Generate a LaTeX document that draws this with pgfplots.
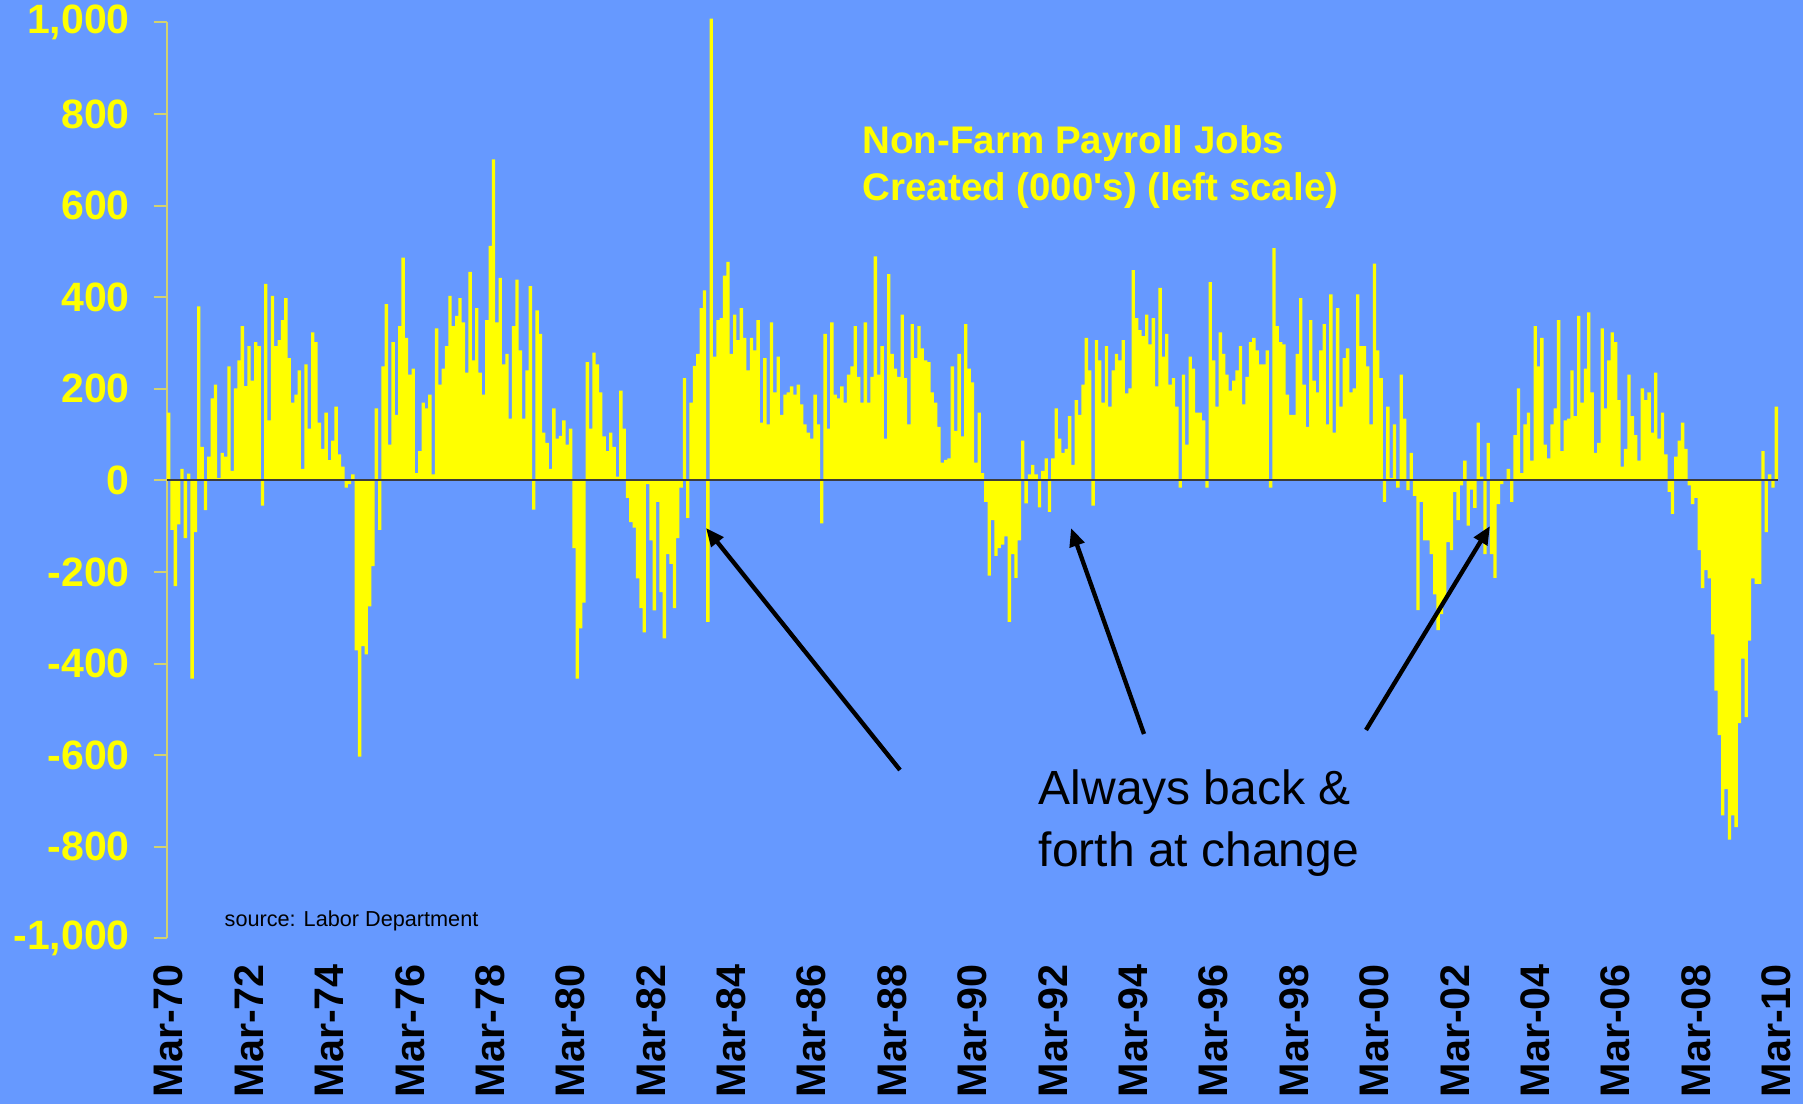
\documentclass[border=0pt]{standalone}
\usepackage{fontspec}
\setmainfont{Liberation Sans}
\usepackage{pgfplots}
\usepackage{pgfplotstable}
\pgfplotsset{compat=1.18}
\usetikzlibrary{arrows.meta}
\definecolor{bgblue}{RGB}{102,153,255}
\definecolor{baryellow}{RGB}{255,255,0}
\definecolor{axisyellow}{RGB}{210,210,110}
\definecolor{zeroline}{RGB}{60,60,60}

\pgfplotstableread[row sep=\\]{
v\\
148\\ -108\\ -231\\ -96\\ 25\\ -126\\ 15\\ -433\\ -113\\ 380\\ 73\\ -65\\ 52\\ 179\\ 209\\ 5\\ 60\\ 52\\ 249\\ 21\\ 201\\ 262\\ 337\\ 206\\ 293\\ 218\\ 302\\ 293\\ -55\\ 429\\ 131\\ 403\\ 293\\ 306\\ 350\\ 398\\ 267\\ 170\\ 187\\ 240\\ 25\\ 253\\ 113\\ 323\\ 302\\ 126\\ 69\\
148\\ 44\\ 87\\ 161\\ 57\\ 30\\ -16\\ -8\\ 13\\ -371\\ -603\\ -362\\ -380\\ -275\\ -187\\ 157\\ -108\\ 249\\ 385\\ 78\\ 302\\ 143\\ 337\\ 486\\ 311\\ 231\\ 244\\ 16\\ 64\\ 170\\ 157\\ 187\\ 13\\ 332\\ 209\\ 244\\ 293\\ 403\\ 337\\ 359\\ 398\\ 345\\ 235\\ 455\\ 262\\ 376\\ 235\\ 187\\
350\\ 512\\ 701\\ 345\\ 442\\ 253\\ 276\\ 135\\ 337\\ 438\\ 284\\ 135\\ 240\\ 424\\ -64\\ 371\\ 320\\ 104\\ 82\\ 25\\ 157\\ 91\\ 97\\ 131\\ 78\\ 113\\ -148\\ -433\\ -323\\ -267\\ 258\\ 113\\ 279\\ 253\\ 192\\ 96\\ 64\\ 104\\ 73\\ 8\\ 196\\ 113\\ -38\\ -91\\ -103\\ -214\\ -279\\ -332\\
-8\\ -131\\ -284\\ -47\\ -244\\ -345\\ -161\\ -182\\ -279\\ -126\\ -16\\ 223\\ -82\\ 170\\ 250\\ 276\\ 376\\ 415\\ -309\\ 1008\\ 270\\ 350\\ 354\\ 447\\ 477\\ 276\\ 362\\ 306\\ 376\\ 311\\ 240\\ 311\\ 284\\ 350\\ 126\\ 267\\ 122\\ 345\\ 192\\ 270\\ 143\\ 187\\ 192\\ 205\\ 187\\ 209\\ 166\\ 122\\
104\\ 91\\ 187\\ 122\\ -94\\ 320\\ 113\\ 345\\ 187\\ 179\\ 205\\ 170\\ 231\\ 249\\ 337\\ 226\\ 170\\ 345\\ 170\\ 226\\ 489\\ 231\\ 293\\ 91\\ 450\\ 276\\ 244\\ 226\\ 362\\ 223\\ 122\\ 341\\ 267\\ 337\\ 288\\ 262\\ 258\\ 192\\ 170\\ 117\\ 39\\ 45\\ 48\\ 249\\ 108\\ 276\\ 96\\ 341\\
244\\ 214\\ 39\\ 148\\ 16\\ -47\\ -208\\ -87\\ -165\\ -148\\ -140\\ -122\\ -309\\ -161\\ -213\\ -131\\ 87\\ -50\\ 13\\ 34\\ 13\\ -59\\ 21\\ 48\\ -69\\ 48\\ 157\\ 91\\ 60\\ 69\\ 140\\ 34\\ 175\\ 143\\ 209\\ 311\\ 240\\ -55\\ 306\\ 262\\ 170\\ 293\\ 161\\ 240\\ 276\\ 262\\ 306\\
190\\ 201\\ 459\\ 354\\ 328\\ 315\\ 362\\ 297\\ 354\\ 205\\ 420\\ 270\\ 320\\ 209\\ 223\\ 161\\ -16\\ 231\\ 78\\ 270\\ 244\\ 148\\ 148\\ 131\\ -16\\ 433\\ 262\\ 161\\ 323\\ 276\\ 231\\ 196\\ 218\\ 240\\ 293\\ 166\\ 226\\ 302\\ 311\\ 284\\ 253\\ 253\\ 284\\ -16\\ 507\\ 337\\ 302\\ 297\\
187\\ 143\\ 143\\ 276\\ 398\\ 209\\ 117\\ 350\\ 218\\ 192\\ 284\\ 341\\ 122\\ 406\\ 104\\ 376\\ 161\\ 267\\ 288\\ 192\\ 201\\ 406\\ 293\\ 293\\ 249\\ 122\\ 473\\ 284\\ 223\\ -47\\ 161\\ 5\\ 122\\ -16\\ 231\\ 135\\ -21\\ 60\\ -34\\ -283\\ -47\\ -131\\ -131\\ -161\\ -249\\ -327\\ -292\\ -262\\
-135\\ -152\\ -25\\ -87\\ -11\\ 43\\ -99\\ -20\\ -60\\ 126\\ 8\\ -161\\ 82\\ -161\\ -213\\ -52\\ -8\\ 0\\ 25\\ -47\\ 99\\ 201\\ 16\\ 122\\ 148\\ 43\\ 337\\ 249\\ 311\\ 78\\ 48\\ 122\\ 157\\ 350\\ 64\\ 131\\ 135\\ 240\\ 140\\ 359\\ 170\\ 244\\ 367\\ 192\\ 60\\ 82\\ 332\\ 157\\
262\\ 323\\ 302\\ 175\\ 30\\ 69\\ 231\\ 140\\ 99\\ 43\\ 201\\ 175\\ 192\\ 104\\ 235\\ 91\\ 148\\ 57\\ -25\\ -73\\ 52\\ 87\\ 126\\ 69\\ -11\\ -52\\ -38\\ -152\\ -235\\ -196\\ -214\\ -336\\ -459\\ -556\\ -731\\ -674\\ -784\\ -731\\ -757\\ -530\\ -389\\ -517\\ -350\\ -214\\ -226\\ -226\\ 64\\ -113\\ 13\\ -16\\ 161\\
}\jobs

\begin{document}
\begin{tikzpicture}
\path[use as bounding box, fill=bgblue] (0pt,0pt) rectangle (540.9pt,331.2pt);
\begin{axis}[
  at={(50.1pt,49.65pt)}, anchor=south west,
  scale only axis, width=483.3pt, height=274.86pt,
  xmin=-0.5, xmax=480.5, ymin=-1000, ymax=1000,
  clip=false,
  axis x line*=bottom, axis y line*=left,
  x axis line style={draw=none},
  y axis line style={draw=axisyellow, line width=0.6pt},
  tick align=outside, major tick length=4pt,
  ytick={-1000,-800,-600,-400,-200,0,200,400,600,800,1000},
  yticklabels={{-1,000},-800,-600,-400,-200,0,200,400,600,800,{1,000}},
  ytick style={draw=axisyellow, line width=0.6pt},
  yticklabel style={font=\fontsize{12.3}{14}\selectfont\bfseries, text=baryellow, inner sep=0pt, anchor=east, xshift=-7pt},
  xtick={0,24,...,480},
  xticklabels={Mar-70,Mar-72,Mar-74,Mar-76,Mar-78,Mar-80,Mar-82,Mar-84,Mar-86,Mar-88,Mar-90,Mar-92,Mar-94,Mar-96,Mar-98,Mar-00,Mar-02,Mar-04,Mar-06,Mar-08,Mar-10},
  xtick style={draw=none},
  xticklabel style={font=\fontsize{12.4}{14}\selectfont\bfseries, text=black, inner sep=0pt, yshift=-3.5pt, rotate=90, anchor=east},
]
\addplot[ybar, bar width=1, fill=baryellow, draw=none] table[x expr=\coordindex, y=v] {\jobs};
\draw[zeroline, line width=0.6pt] (axis cs:-0.5,0) -- (axis cs:480.5,0);
\end{axis}
\node[anchor=west, text=baryellow, font=\fontsize{11.55}{14.1}\selectfont\bfseries, align=left, inner sep=0pt] at (258.6pt,281.1pt) {Non-Farm Payroll Jobs\\Created (000\textquotesingle s) (left scale)};
\node[anchor=west, text=black, font=\fontsize{14.4}{18.6}\selectfont, align=left, inner sep=0pt] at (311.4pt,84.2pt) {Always back \&\\forth at change};
\node[anchor=west, text=black, font=\fontsize{6.5}{8}\selectfont, inner sep=0pt] at (67.2pt,54.9pt) {source: Labor Department};
\draw[black, line width=1.3pt, -{Triangle[length=5.5pt,width=4.5pt]}] (270pt,100.2pt) -- (211.8pt,172.8pt);
\draw[black, line width=1.3pt, -{Triangle[length=5.5pt,width=4.5pt]}] (343.2pt,111pt) -- (321.3pt,172.8pt);
\draw[black, line width=1.3pt, -{Triangle[length=5.5pt,width=4.5pt]}] (409.8pt,112.2pt) -- (447pt,173.4pt);
\end{tikzpicture}
\end{document}
